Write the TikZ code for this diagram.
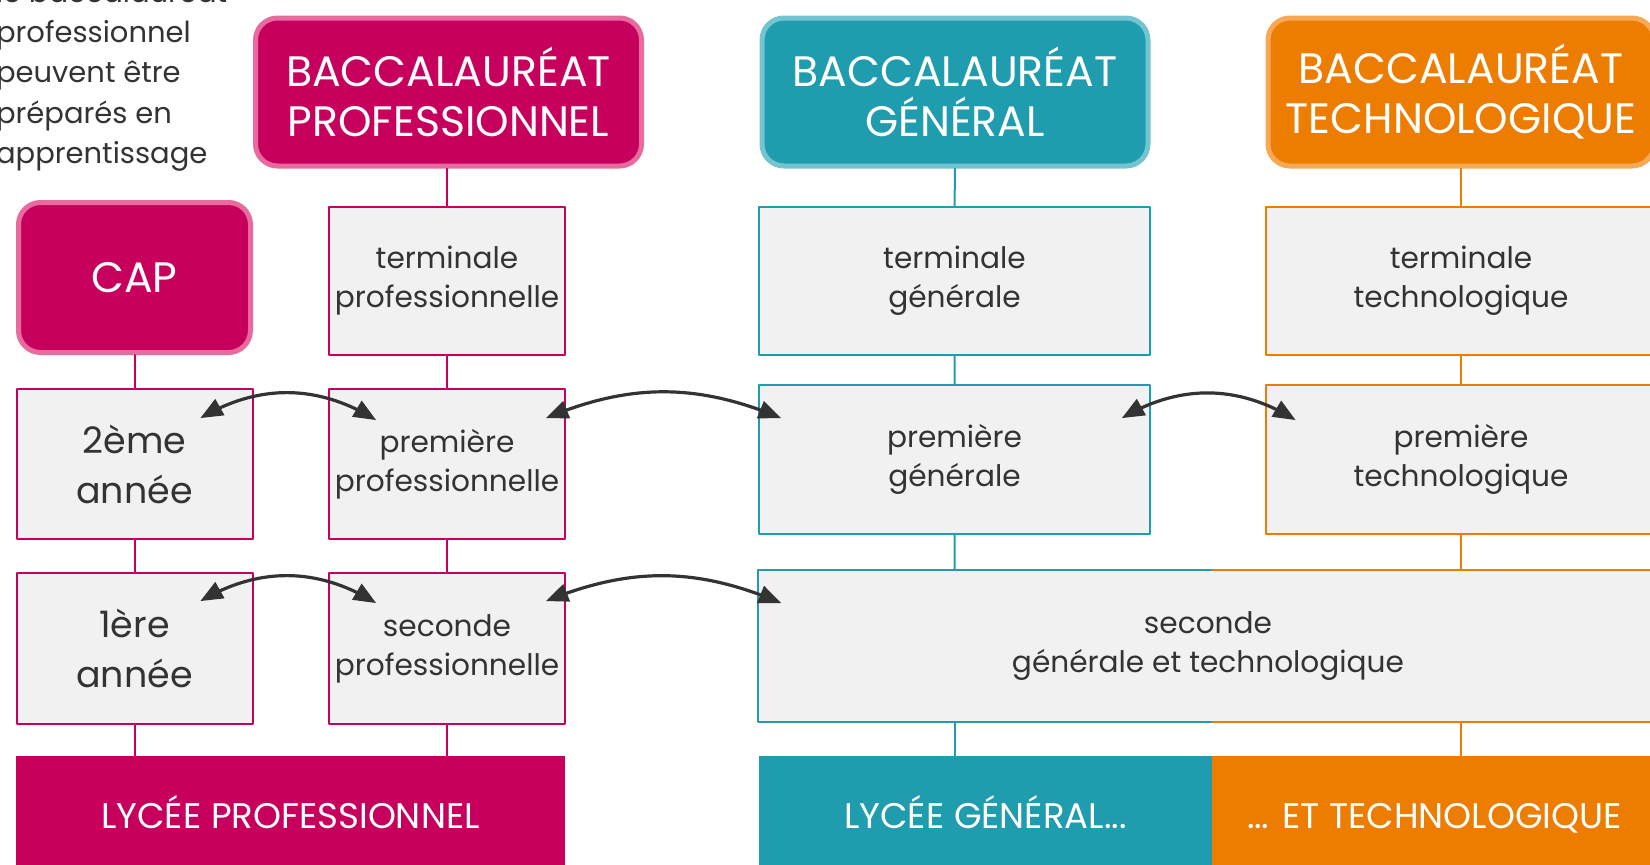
\documentclass[tikz,border=0pt]{standalone}
\usepackage{fontspec}
\setmainfont{Poppins}
\usepackage{tikz}
\usetikzlibrary{calc}
\usetikzlibrary{arrows}
\definecolor{ccqq5f}{rgb}{0.78,0.,0.37}
\definecolor{ee6699}{rgb}{0.91,0.42,0.62}
\definecolor{qq9cad}{rgb}{0.12,0.61,0.68}
\definecolor{wwccdd}{rgb}{0.45,0.77,0.82}
\definecolor{ee7cqq}{rgb}{0.93,0.49,0.}
\definecolor{ffaa55}{rgb}{0.97,0.66,0.33}
\definecolor{f1f1f1}{rgb}{0.945,0.945,0.945}
\definecolor{uuuuuu}{rgb}{0.2,0.2,0.2}
\newcommand{\boxfont}{\fontsize{14.8}{19.5}\selectfont}
\newcommand{\bacfont}{\fontsize{21.3}{25}\selectfont}
\newcommand{\anfont}{\fontsize{18.2}{25}\selectfont}
\newcommand{\lyceefont}{\fontsize{17.8}{20}\selectfont}
\tikzstyle{every node}=[font=\boxfont]
\tikzstyle{bacbox}=[rounded corners=11pt,line width=2.5pt,text=white,align=center,font=\bacfont,inner sep=0pt,minimum height=74pt]
\tikzstyle{classbox}=[fill=f1f1f1,line width=1pt,text=uuuuuu,align=center,inner sep=0pt]
\tikzstyle{lyceebar}=[text=white,font=\lyceefont,inner sep=0pt,minimum height=59.5pt,text height=12.5pt,text depth=0pt]
\tikzstyle{link}=[line width=1pt]
\tikzstyle{passage}=[<->,line width=1.6pt,color=uuuuuu]

\begin{document}
\begin{tikzpicture}[line cap=round,line join=round,>=triangle 45,x=0.5pt,y=-0.5pt]
\useasboundingbox (0,0) rectangle (1650,864);
% note
\node[anchor=west,align=left,text=uuuuuu,font=\fontsize{14.5}{20.2}\selectfont] (note) at (-11,75.5) {le baccalauréat\\professionnel\\peuvent être\\préparés en\\apprentissage};
% baccalaureats
\node[bacbox,fill=ccqq5f,draw=ee6699,minimum width=193pt] (bacpro) at (448.5,92) {BACCALAURÉAT\\PROFESSIONNEL};
\node[bacbox,fill=qq9cad,draw=wwccdd,minimum width=193pt] (bacgen) at (955,92) {BACCALAURÉAT\\GÉNÉRAL};
\node[bacbox,fill=ee7cqq,draw=ffaa55,minimum width=193pt] (bactech) at (1461,92) {BACCALAURÉAT\\TECHNOLOGIQUE};
\node[bacbox,fill=ccqq5f,draw=ee6699,minimum width=116pt,minimum height=75pt] (cap) at (134.5,277.5) {CAP};
% terminales
\node[classbox,draw=ccqq5f,minimum width=118pt,minimum height=74pt] (terpro) at (447,281) {terminale\\professionnelle};
\node[classbox,draw=qq9cad,minimum width=195.5pt,minimum height=74pt] (tergen) at (954.5,281) {terminale\\générale};
\node[classbox,draw=ee7cqq,minimum width=195.5pt,minimum height=74pt] (tertech) at (1461,281) {terminale\\technologique};
% premieres
\node[classbox,draw=ccqq5f,font=\anfont,minimum width=118pt,minimum height=75pt] (an2) at (134.5,464) {2ème\\année};
\node[classbox,draw=ccqq5f,minimum width=118pt,minimum height=75pt] (prepro) at (447,464) {première\\professionnelle};
\node[classbox,draw=qq9cad,minimum width=195.5pt,minimum height=74.5pt] (pregen) at (954.5,459.5) {première\\générale};
\node[classbox,draw=ee7cqq,minimum width=195.5pt,minimum height=74.5pt] (pretech) at (1461,459.5) {première\\technologique};
% secondes
\node[classbox,draw=ccqq5f,font=\anfont,minimum width=118pt,minimum height=75.5pt] (an1) at (134.5,648.5) {1ère\\année};
\node[classbox,draw=ccqq5f,minimum width=118pt,minimum height=75.5pt] (secpro) at (447,648.5) {seconde\\professionnelle};
\node[classbox,minimum width=449pt,minimum height=75pt] (secgt) at (1208,646) {seconde\\générale et technologique};
\coordinate (split) at (1212,646);
\draw[link,color=qq9cad] (split |- secgt.north) -- (secgt.north west) -- (secgt.south west) -- (split |- secgt.south);
\draw[link,color=ee7cqq] (split |- secgt.north) -- (secgt.north east) -- (secgt.south east) -- (split |- secgt.south);
% lycees
\node[lyceebar,fill=ccqq5f,minimum width=274.5pt] (lypro) at (290.5,815.5) {LYCÉE PROFESSIONNEL};
\node[lyceebar,fill=qq9cad,minimum width=226.5pt] (lygen) at (985.5,815.5) {LYCÉE GÉNÉRAL...};
\node[lyceebar,fill=ee7cqq,minimum width=222.5pt] (lytech) at (1434.5,815.5) {... ET TECHNOLOGIQUE};
% liaisons
\draw[link,color=ccqq5f] (cap) -- (an2) -- (an1) -- (an1.south |- lypro.north);
\draw[link,color=ccqq5f] (bacpro.south -| terpro) -- (terpro) -- (prepro) -- (secpro) -- (secpro.south |- lypro.north);
\draw[link,color=qq9cad] (bacgen) -- (tergen) -- (pregen) -- (pregen.south |- secgt.north);
\draw[link,color=qq9cad] (pregen.south |- secgt.south) -- (pregen.south |- lygen.north);
\draw[link,color=ee7cqq] (bactech) -- (tertech) -- (pretech) -- (pretech.south |- secgt.north);
\draw[link,color=ee7cqq] (pretech.south |- secgt.south) -- (pretech.south |- lytech.north);
% passerelles
\draw[passage] ($(an2.north east)+(-53,30)$) to[bend left=30] ($(prepro.north west)+(48,32)$);
\draw[passage] ($(prepro.north east)+(-20,30)$) to[bend left=22] ($(pregen.north west)+(23,34)$);
\draw[passage] ($(pregen.north east)+(-29,34)$) to[bend left=30] ($(pretech.north west)+(31,36)$);
\draw[passage] ($(an1.north east)+(-53,29)$) to[bend left=30] ($(secpro.north west)+(48,31)$);
\draw[passage] ($(secpro.north east)+(-20,29)$) to[bend left=22] ($(secgt.north west)+(23,33)$);
\end{tikzpicture}
\end{document}
